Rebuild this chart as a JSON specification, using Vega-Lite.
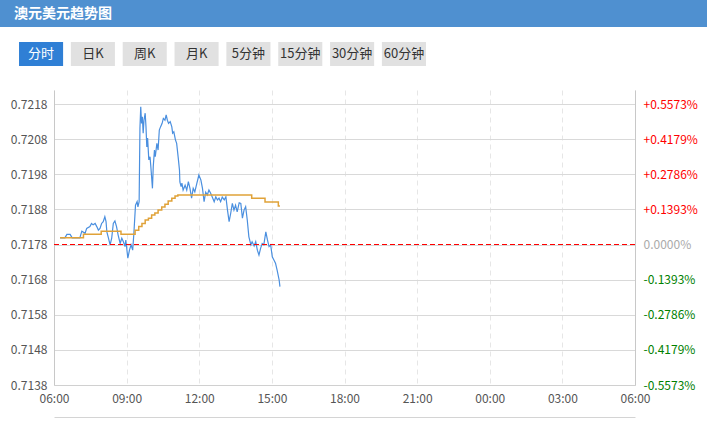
{
  "$schema": "https://vega.github.io/schema/vega-lite/v6.json",
  "padding": 0,
  "background": "white",
  "config": {
    "font": "Noto Sans CJK SC",
    "view": {"stroke": null},
    "axis": {"labelFont": "Noto Sans CJK SC", "labelFontSize": 12, "labelColor": "#555555"}
  },
  "datasets": {
    "price": [
      {"t": "06:15", "p": 0.71799}, {"t": "06:27", "p": 0.71799}, {"t": "06:32", "p": 0.71809}, {"t": "06:40", "p": 0.71809},
      {"t": "06:45", "p": 0.71799}, {"t": "07:04", "p": 0.71799}, {"t": "07:09", "p": 0.71818}, {"t": "07:17", "p": 0.71812},
      {"t": "07:21", "p": 0.71826}, {"t": "07:29", "p": 0.71831}, {"t": "07:33", "p": 0.71840}, {"t": "07:37", "p": 0.71836},
      {"t": "07:42", "p": 0.71840}, {"t": "07:46", "p": 0.71831}, {"t": "07:50", "p": 0.71821}, {"t": "07:54", "p": 0.71826},
      {"t": "07:58", "p": 0.71840}, {"t": "08:02", "p": 0.71845}, {"t": "08:06", "p": 0.71859}, {"t": "08:09", "p": 0.71845},
      {"t": "08:11", "p": 0.71816}, {"t": "08:15", "p": 0.71798}, {"t": "08:19", "p": 0.71779}, {"t": "08:23", "p": 0.71798},
      {"t": "08:27", "p": 0.71840}, {"t": "08:31", "p": 0.71847}, {"t": "08:35", "p": 0.71831}, {"t": "08:39", "p": 0.71807},
      {"t": "08:44", "p": 0.71783}, {"t": "08:48", "p": 0.71798}, {"t": "08:52", "p": 0.71788}, {"t": "08:56", "p": 0.71774},
      {"t": "08:58", "p": 0.71793}, {"t": "09:03", "p": 0.71741}, {"t": "09:07", "p": 0.71764}, {"t": "09:11", "p": 0.71779},
      {"t": "09:15", "p": 0.71764}, {"t": "09:18", "p": 0.71812}, {"t": "09:22", "p": 0.71892}, {"t": "09:26", "p": 0.71902},
      {"t": "09:28", "p": 0.71887}, {"t": "09:31", "p": 0.71902}, {"t": "09:33", "p": 0.72111}, {"t": "09:35", "p": 0.72172},
      {"t": "09:37", "p": 0.72125}, {"t": "09:39", "p": 0.72144}, {"t": "09:41", "p": 0.72097}, {"t": "09:43", "p": 0.72134},
      {"t": "09:46", "p": 0.72154}, {"t": "09:48", "p": 0.72115}, {"t": "09:50", "p": 0.72058}, {"t": "09:52", "p": 0.72083},
      {"t": "09:55", "p": 0.72021}, {"t": "09:58", "p": 0.72030}, {"t": "10:00", "p": 0.72002}, {"t": "10:04", "p": 0.71940},
      {"t": "10:06", "p": 0.72002}, {"t": "10:09", "p": 0.72049}, {"t": "10:11", "p": 0.72030}, {"t": "10:15", "p": 0.72068},
      {"t": "10:18", "p": 0.72049}, {"t": "10:21", "p": 0.72106}, {"t": "10:24", "p": 0.72115}, {"t": "10:28", "p": 0.72125},
      {"t": "10:31", "p": 0.72139}, {"t": "10:35", "p": 0.72134}, {"t": "10:38", "p": 0.72149}, {"t": "10:41", "p": 0.72134},
      {"t": "10:44", "p": 0.72125}, {"t": "10:48", "p": 0.72130}, {"t": "10:52", "p": 0.72115}, {"t": "10:54", "p": 0.72097},
      {"t": "10:57", "p": 0.72101}, {"t": "11:01", "p": 0.72078}, {"t": "11:04", "p": 0.72068}, {"t": "11:08", "p": 0.72026},
      {"t": "11:11", "p": 0.71992}, {"t": "11:12", "p": 0.71958}, {"t": "11:15", "p": 0.71945}, {"t": "11:17", "p": 0.71955},
      {"t": "11:20", "p": 0.71935}, {"t": "11:25", "p": 0.71949}, {"t": "11:29", "p": 0.71935}, {"t": "11:33", "p": 0.71959},
      {"t": "11:37", "p": 0.71940}, {"t": "11:41", "p": 0.71912}, {"t": "11:45", "p": 0.71940}, {"t": "11:49", "p": 0.71930},
      {"t": "11:54", "p": 0.71954}, {"t": "11:57", "p": 0.71968}, {"t": "11:59", "p": 0.71978}, {"t": "12:04", "p": 0.71964},
      {"t": "12:08", "p": 0.71940}, {"t": "12:12", "p": 0.71902}, {"t": "12:16", "p": 0.71929}, {"t": "12:20", "p": 0.71921},
      {"t": "12:24", "p": 0.71935}, {"t": "12:28", "p": 0.71927}, {"t": "12:32", "p": 0.71916}, {"t": "12:37", "p": 0.71902},
      {"t": "12:41", "p": 0.71916}, {"t": "12:45", "p": 0.71907}, {"t": "12:49", "p": 0.71912}, {"t": "12:53", "p": 0.71902},
      {"t": "12:57", "p": 0.71915}, {"t": "13:02", "p": 0.71907}, {"t": "13:06", "p": 0.71916}, {"t": "13:10", "p": 0.71878},
      {"t": "13:14", "p": 0.71845}, {"t": "13:18", "p": 0.71869}, {"t": "13:22", "p": 0.71897}, {"t": "13:26", "p": 0.71878},
      {"t": "13:30", "p": 0.71892}, {"t": "13:34", "p": 0.71873}, {"t": "13:39", "p": 0.71899}, {"t": "13:43", "p": 0.71897},
      {"t": "13:47", "p": 0.71855}, {"t": "13:51", "p": 0.71878}, {"t": "13:55", "p": 0.71888}, {"t": "13:59", "p": 0.71850},
      {"t": "14:03", "p": 0.71802}, {"t": "14:08", "p": 0.71779}, {"t": "14:11", "p": 0.71788}, {"t": "14:16", "p": 0.71776},
      {"t": "14:20", "p": 0.71788}, {"t": "14:24", "p": 0.71764}, {"t": "14:28", "p": 0.71750}, {"t": "14:32", "p": 0.71769},
      {"t": "14:36", "p": 0.71783}, {"t": "14:40", "p": 0.71779}, {"t": "14:45", "p": 0.71816}, {"t": "14:49", "p": 0.71793},
      {"t": "14:53", "p": 0.71774}, {"t": "14:57", "p": 0.71779}, {"t": "15:01", "p": 0.71745}, {"t": "15:05", "p": 0.71736},
      {"t": "15:09", "p": 0.71727}, {"t": "15:13", "p": 0.71707}, {"t": "15:18", "p": 0.71679}, {"t": "15:20", "p": 0.71660}
    ],
    "avg": [
      {"t": "06:15", "p": 0.71799}, {"t": "07:13", "p": 0.71809}, {"t": "07:57", "p": 0.71818}, {"t": "08:46", "p": 0.71809},
      {"t": "09:21", "p": 0.71821}, {"t": "09:30", "p": 0.71831}, {"t": "09:38", "p": 0.71840}, {"t": "09:46", "p": 0.71850},
      {"t": "09:54", "p": 0.71855}, {"t": "10:02", "p": 0.71864}, {"t": "10:10", "p": 0.71870}, {"t": "10:18", "p": 0.71878},
      {"t": "10:27", "p": 0.71887}, {"t": "10:35", "p": 0.71895}, {"t": "10:43", "p": 0.71904}, {"t": "10:52", "p": 0.71912},
      {"t": "11:00", "p": 0.71918}, {"t": "11:07", "p": 0.71921}, {"t": "14:10", "p": 0.71912}, {"t": "14:43", "p": 0.71901},
      {"t": "15:16", "p": 0.71890}, {"t": "15:20", "p": 0.71890}
    ],
    "buttons": [
      {"label": "分时", "state": "on"}, {"label": "日K", "state": "off"}, {"label": "周K", "state": "off"},
      {"label": "月K", "state": "off"}, {"label": "5分钟", "state": "off"}, {"label": "15分钟", "state": "off"},
      {"label": "30分钟", "state": "off"}, {"label": "60分钟", "state": "off"}
    ],
    "base": [{"close": 0.7178}]
  },
  "columns": 1,
  "spacing": 15,
  "concat": [
    {
      "width": 707,
      "height": 27,
      "view": {"fill": "#4f90d0", "stroke": null},
      "data": {"values": [{"title": "澳元美元趋势图"}]},
      "mark": {"type": "text", "align": "left", "baseline": "middle", "dx": 14, "color": "#ffffff", "fontSize": 14, "fontWeight": "bold", "font": "Noto Sans CJK SC"},
      "encoding": {
        "text": {"field": "title"},
        "x": {"datum": 0, "type": "quantitative", "scale": {"domain": [0, 1]}, "axis": null}
      }
    },
    {
      "width": 445,
      "height": 33,
      "data": {"name": "buttons"},
      "encoding": {
        "x": {"field": "label", "type": "nominal", "sort": null, "scale": {"paddingInner": 0.15, "paddingOuter": 0.367}, "axis": null},
        "y": {"datum": "row", "type": "nominal", "scale": {"paddingInner": 0, "paddingOuter": 0.1875, "align": 0}, "axis": null}
      },
      "layer": [
        {"mark": {"type": "rect"}, "encoding": {"color": {"field": "state", "type": "nominal", "scale": {"domain": ["on", "off"], "range": ["#2f7fd5", "#e1e1e1"]}, "legend": null}}},
        {"mark": {"type": "text", "fontSize": 13, "font": "Noto Sans CJK SC"}, "encoding": {"text": {"field": "label"}, "fill": {"field": "state", "type": "nominal", "scale": {"domain": ["on", "off"], "range": ["#ffffff", "#333333"]}, "legend": null}}}
      ],
      "resolve": {"scale": {"color": "independent"}}
    },
    {
      "width": 707,
      "height": 295,
      "resolve": {"scale": {"y": "independent"}, "axis": {"x": "independent"}},
      "layer": [
        {
          "data": {"name": "price", "format": {"parse": {"t": "utc:'%H:%M'"}}},
          "mark": {"type": "line", "color": "#4a8fdf", "strokeWidth": 1.2},
          "encoding": {
            "x": {"field": "t", "type": "temporal",
              "scale": {"type": "utc", "range": [54, 635], "domain": [{"year": 1900, "month": 1, "date": 1, "hours": 6, "utc": true}, {"year": 1900, "month": 1, "date": 2, "hours": 6, "utc": true}]},
              "axis": {"orient": "bottom", "title": null, "format": "%H:%M", "ticks": false, "labelPadding": 8, "domainColor": "#d0d0d0", "gridColor": "#e6e6e6", "gridDash": [5, 4], "labelFlush": false, "labelOverlap": false,
                "values": [
                  {"year": 1900, "month": 1, "date": 1, "hours": 6, "utc": true}, {"year": 1900, "month": 1, "date": 1, "hours": 9, "utc": true},
                  {"year": 1900, "month": 1, "date": 1, "hours": 12, "utc": true}, {"year": 1900, "month": 1, "date": 1, "hours": 15, "utc": true},
                  {"year": 1900, "month": 1, "date": 1, "hours": 18, "utc": true}, {"year": 1900, "month": 1, "date": 1, "hours": 21, "utc": true},
                  {"year": 1900, "month": 1, "date": 2, "hours": 0, "utc": true}, {"year": 1900, "month": 1, "date": 2, "hours": 3, "utc": true},
                  {"year": 1900, "month": 1, "date": 2, "hours": 6, "utc": true}
                ]}},
            "y": {"field": "p", "type": "quantitative", "scale": {"domain": [0.7138, 0.7222], "nice": false, "zero": false},
              "axis": {"orient": "left", "offset": -54, "title": null, "format": ".4f", "ticks": false, "labelPadding": 7, "domainColor": "#c8c8c8", "gridColor": "#d9d9d9",
                "values": [0.7138, 0.7148, 0.7158, 0.7168, 0.7178, 0.7188, 0.7198, 0.7208, 0.7218]}}
          }
        },
        {
          "data": {"name": "avg", "format": {"parse": {"t": "utc:'%H:%M'"}}},
          "mark": {"type": "line", "color": "#e0a238", "strokeWidth": 1.5, "interpolate": "step-after"},
          "encoding": {
            "x": {"field": "t", "type": "temporal",
              "axis": {"orient": "bottom", "title": null, "labels": false, "ticks": false, "grid": false, "offset": 33, "domainColor": "#aaaaaa", "domainWidth": 2}},
            "y": {"field": "p", "type": "quantitative", "scale": {"domain": [0.7138, 0.7222], "nice": false, "zero": false}, "axis": null}
          }
        },
        {
          "data": {"name": "base"},
          "mark": {"type": "rule", "color": "#ff0000", "strokeDash": [5, 3], "strokeWidth": 1.2},
          "encoding": {
            "x": {"datum": {"year": 1900, "month": 1, "date": 1, "hours": 6, "utc": true}, "type": "temporal", "axis": null},
            "x2": {"datum": {"year": 1900, "month": 1, "date": 2, "hours": 6, "utc": true}},
            "y": {"field": "close", "type": "quantitative", "scale": {"domain": [0.7138, 0.7222], "nice": false, "zero": false},
              "axis": {"orient": "right", "offset": -72, "title": null, "grid": false, "ticks": false, "labelPadding": 8, "domainColor": "#c8c8c8",
                "values": [0.7138, 0.7148, 0.7158, 0.7168, 0.7178, 0.7188, 0.7198, 0.7208, 0.7218],
                "labelExpr": "['-0.5573%','-0.4179%','-0.2786%','-0.1393%','0.0000%','+0.1393%','+0.2786%','+0.4179%','+0.5573%'][round((datum.value-0.7138)*1000)]",
                "labelColor": {"expr": "datum.value > 0.71785 ? '#ff0000' : (datum.value < 0.71775 ? '#008000' : '#aaaaaa')"}}}
          }
        }
      ]
    }
  ]
}
